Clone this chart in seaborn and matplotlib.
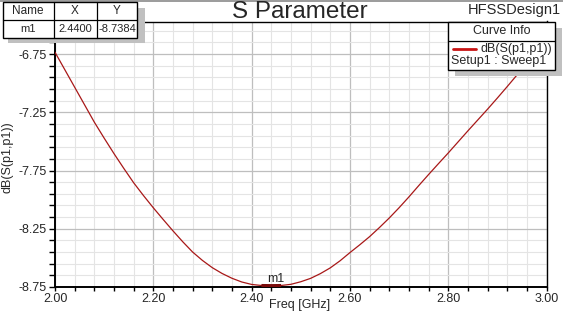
import numpy as np
import pandas as pd
import matplotlib
matplotlib.use("Agg")
import matplotlib.pyplot as plt
import seaborn as sns
from matplotlib.ticker import FixedLocator, FixedFormatter
from matplotlib.patches import Rectangle
from matplotlib.lines import Line2D

# ---- data ----
freq_ghz = [2.00, 2.02, 2.04, 2.06, 2.08, 2.10, 2.12, 2.14, 2.16, 2.18,
            2.20, 2.22, 2.24, 2.26, 2.28, 2.30, 2.32, 2.34, 2.36, 2.38,
            2.40, 2.42, 2.44, 2.46, 2.48, 2.50, 2.52, 2.54, 2.56, 2.58,
            2.60, 2.62, 2.64, 2.66, 2.68, 2.70, 2.72, 2.74, 2.76, 2.78,
            2.80, 2.82, 2.84, 2.86, 2.88, 2.90, 2.92, 2.94, 2.96, 2.98, 3.00]
s11_db = [-6.735, -6.885, -7.035, -7.185, -7.335, -7.472, -7.605, -7.732, -7.855, -7.965,
          -8.070, -8.170, -8.268, -8.362, -8.450, -8.522, -8.584, -8.634, -8.675, -8.707,
          -8.728, -8.737, -8.738, -8.737, -8.727, -8.705, -8.676, -8.635, -8.586, -8.525,
          -8.455, -8.388, -8.318, -8.240, -8.158, -8.070, -7.977, -7.880, -7.785, -7.692,
          -7.600, -7.505, -7.410, -7.317, -7.224, -7.128, -7.030, -6.930, -6.830, -6.730, -6.630]
marker_name = "m1"
marker_x = 2.44
marker_y = -8.7384
x_ticks = [2.00, 2.20, 2.40, 2.60, 2.80, 3.00]
x_tick_labels = ["2.00", "2.20", "2.40", "2.60", "2.80", "3.00"]
y_ticks = [-8.75, -8.25, -7.75, -7.25, -6.75]
y_tick_labels = ["-8.75", "-8.25", "-7.75", "-7.25", "-6.75"]
title = "S Parameter"
design_name = "HFSSDesign1"
x_label = "Freq [GHz]"
y_label = "dB(S(p1,p1))"
trace_name = "dB(S(p1,p1))"
setup_name = "Setup1 : Sweep1"

df = pd.DataFrame({"freq": freq_ghz, "db": s11_db})

sns.set_style("white")
plt.rcParams["font.family"] = ["Liberation Sans", "DejaVu Sans"]

W, H = 563, 316
fig = plt.figure(figsize=(W / 100, H / 100), dpi=100)
fig.patch.set_facecolor("white")

def fx(x):
    return x / W

def fy(y):
    return 1 - y / H

ax = fig.add_axes([fx(55), fy(287), fx(546.5) - fx(55), fy(21.5) - fy(287)])
ax.set_facecolor("white")

sns.lineplot(data=df, x="freq", y="db", ax=ax, color="#A81818", lw=0.9, zorder=3)
mk = df[(df["freq"] >= 2.42) & (df["freq"] <= 2.46)]
ax.plot(mk["freq"], mk["db"], color="#7a0a0a", lw=2.2, zorder=4, solid_capstyle="butt")

ax.set_xlim(2.0, 3.0)
ax.set_ylim(-8.75, -6.471)

ax.xaxis.set_major_locator(FixedLocator(x_ticks))
ax.xaxis.set_major_formatter(FixedFormatter(x_tick_labels))
ax.xaxis.set_minor_locator(FixedLocator(list(np.arange(2.0, 3.0001, 0.04))))
ax.yaxis.set_major_locator(FixedLocator(y_ticks))
ax.yaxis.set_major_formatter(FixedFormatter(y_tick_labels))
ax.yaxis.set_minor_locator(FixedLocator(list(np.arange(-8.75, -6.47, 0.1))))

ax.grid(which="minor", color="#e4e4e4", lw=0.8)
ax.grid(which="major", color="#bebebe", lw=0.9)
ax.set_axisbelow(True)

ax.tick_params(which="both", direction="out", color="black", width=1.0,
               bottom=True, left=True, top=False, right=False)
ax.tick_params(axis="y", which="both", length=4, pad=2, labelsize=9)
ax.tick_params(axis="x", which="both", length=3, pad=1.5, labelsize=9)

for side in ["top", "right"]:
    ax.spines[side].set_color("black")
    ax.spines[side].set_linewidth(1.0)
for side in ["left", "bottom"]:
    ax.spines[side].set_color("black")
    ax.spines[side].set_linewidth(1.4)

ax.set_xlabel("")
ax.set_ylabel("")
fig.text(fx(300), fy(305), x_label, fontsize=9, ha="center", va="center")
fig.text(fx(8), fy(157), y_label, rotation=90, fontsize=9, ha="center", va="center")

fig.text(fx(300), fy(12), title, fontsize=17.5, ha="center", va="center")
fig.text(fx(561), fy(10), design_name, fontsize=10.5, ha="right", va="center")

ax.annotate(marker_name, (marker_x, marker_y), xytext=(3, 0.5), textcoords="offset points",
            ha="center", va="bottom", fontsize=9)

# window edge line at top
fig.add_artist(Line2D([0, 1], [fy(0.5), fy(0.5)], color="#8a8a8a", lw=1.2, transform=fig.transFigure))

# marker table
def rect(x0, y0, x1, y1, fc, ec="none", lw=0.0, z=10):
    r = Rectangle((fx(x0), fy(y1)), fx(x1) - fx(x0), fy(y0) - fy(y1),
                  transform=fig.transFigure, facecolor=fc, edgecolor=ec, lw=lw, zorder=z)
    fig.add_artist(r)

rect(8, 8, 145, 43, "#c0c0c0", z=10)
rect(3, 2, 137, 38, "white", "black", 1.0, z=11)
fig.add_artist(Line2D([fx(3), fx(137)], [fy(20), fy(20)], color="black", lw=0.9, transform=fig.transFigure, zorder=12))
for cx in [53.5, 96.5]:
    fig.add_artist(Line2D([fx(cx), fx(cx)], [fy(2), fy(38)], color="black", lw=0.9, transform=fig.transFigure, zorder=12))
for cx, txt in [(28, "Name"), (75, "X"), (117, "Y")]:
    fig.text(fx(cx), fy(11.5), txt, fontsize=8.5, ha="center", va="center", zorder=13)
for cx, txt in [(28, marker_name), (75, f"{marker_x:.4f}"), (117, f"{marker_y:.4f}")]:
    fig.text(fx(cx), fy(29.5), txt, fontsize=8, ha="center", va="center", zorder=13)

# curve info legend
rect(455, 28, 562, 76, "#c0c0c0", z=10)
rect(448, 22, 555, 70, "white", "black", 1.0, z=11)
fig.add_artist(Line2D([fx(448), fx(555)], [fy(40.5), fy(40.5)], color="black", lw=0.9, transform=fig.transFigure, zorder=12))
fig.text(fx(501.5), fy(31.5), "Curve Info", fontsize=9, ha="center", va="center", zorder=13)
fig.add_artist(Line2D([fx(453), fx(476)], [fy(49), fy(49)], color="#C81414", lw=2.0, transform=fig.transFigure, zorder=13))
fig.text(fx(552), fy(49), trace_name, fontsize=9, ha="right", va="center", zorder=13)
fig.text(fx(451), fy(61), setup_name, fontsize=9, ha="left", va="center", zorder=13)

fig.savefig("out.png", dpi=100, facecolor="white")
